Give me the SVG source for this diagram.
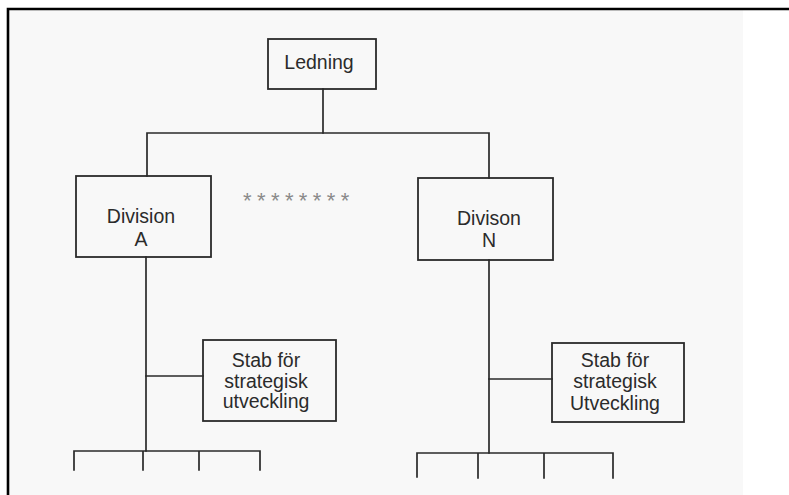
<svg xmlns="http://www.w3.org/2000/svg" width="789" height="495" viewBox="0 0 789 495">
  <style>
    .box { fill: none; stroke: #2a2a2a; stroke-width: 1.8; }
    .wire { fill: none; stroke: #2a2a2a; stroke-width: 1.7; stroke-linecap: square; }
    .lbl { font-family: "Liberation Sans", Arial, sans-serif; font-size: 19.5px; fill: #2b2b2b; text-anchor: middle; }
    .dots { font-family: "Liberation Sans", Arial, sans-serif; font-size: 22px; fill: #8a8a8a; letter-spacing: 5.4px; }
  </style>

  <!-- page background and frame -->
  <rect x="0" y="0" width="789" height="495" fill="#ffffff"/>
  <rect x="9" y="10" width="734" height="485" fill="#f8f8f8"/>
  <path d="M8 495 V9 H789" fill="none" stroke="#000000" stroke-width="2.6"/>

  <!-- connectors -->
  <g id="connectors" class="wire">
    <path d="M323 89 V133"/>
    <path d="M147 176 V133 H489 V178"/>
    <path d="M146 257 V451"/>
    <path d="M146 376 H203"/>
    <path d="M74 470 V451 H260 V470 M143 451 V470 M199 451 V470"/>
    <path d="M489 260 V453"/>
    <path d="M489 379 H552"/>
    <path d="M417 477 V453 H613 V478 M478 453 V478 M544 453 V478"/>
  </g>

  <!-- nodes -->
  <g id="ledning">
    <rect class="box" x="268" y="39" width="108" height="50"/>
    <text class="lbl" x="319" y="69">Ledning</text>
  </g>

  <g id="division-a">
    <rect class="box" x="76" y="176" width="135" height="81"/>
    <text class="lbl" x="141" y="223">Division</text>
    <text class="lbl" x="141" y="246">A</text>
  </g>

  <g id="ellipsis">
    <text class="dots" x="243" y="208">********</text>
  </g>

  <g id="division-n">
    <rect class="box" x="418" y="178" width="135" height="82"/>
    <text class="lbl" x="489" y="225">Divison</text>
    <text class="lbl" x="489" y="247">N</text>
  </g>

  <g id="stab-a">
    <rect class="box" x="203" y="340" width="133" height="81"/>
    <text class="lbl" x="266" y="367">Stab för</text>
    <text class="lbl" x="266" y="388">strategisk</text>
    <text class="lbl" x="266" y="408">utveckling</text>
  </g>

  <g id="stab-n">
    <rect class="box" x="552" y="343" width="132" height="79"/>
    <text class="lbl" x="615" y="367">Stab för</text>
    <text class="lbl" x="615" y="388">strategisk</text>
    <text class="lbl" x="615" y="410">Utveckling</text>
  </g>
</svg>
